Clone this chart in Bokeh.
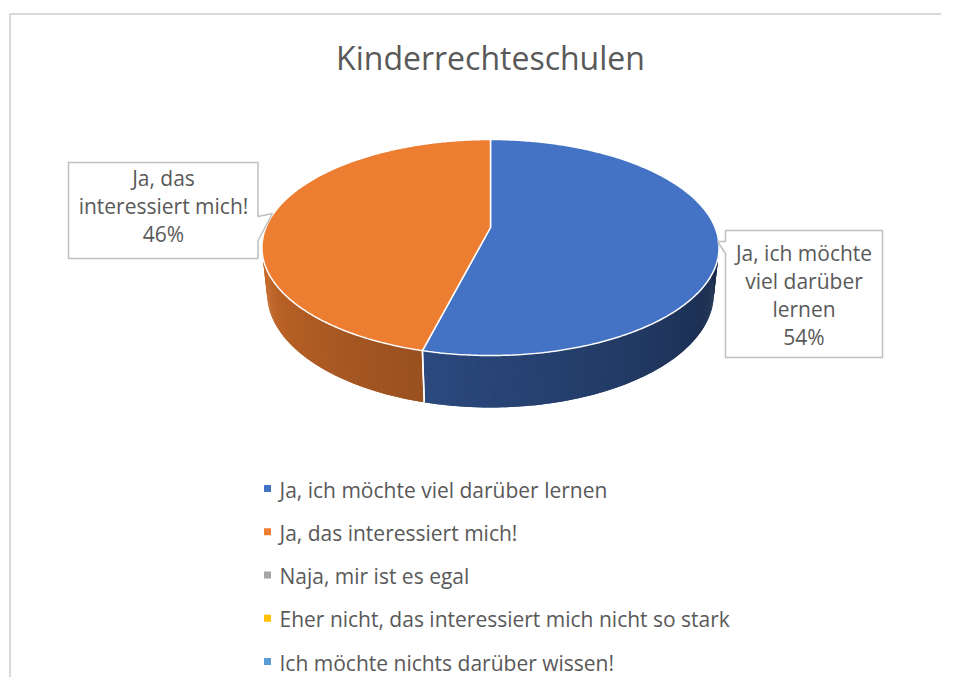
import numpy as np
from bokeh.plotting import figure
from bokeh.models import Range1d
from bokeh.embed import file_html
from bokeh.resources import INLINE
from bokeh.core.properties import value

# ---------------- data ----------------
title = "Kinderrechteschulen"
categories = [
    "Ja, ich möchte viel darüber lernen",
    "Ja, das interessiert mich!",
    "Naja, mir ist es egal",
    "Eher nicht, das interessiert mich nicht so stark",
    "Ich möchte nichts darüber wissen!",
]
values = [54, 46, 0, 0, 0]
colors = ["#4472C4", "#ED7D31", "#A5A5A5", "#FFC000", "#5B9BD5"]
label_lines = [
    ["Ja, ich möchte", "viel darüber", "lernen"],
    ["Ja, das", "interessiert mich!"],
    [], [], [],
]

FONT = value("Open Sans")
TXT = "#595959"

W, H = 941, 677
p = figure(width=W, height=H, x_range=Range1d(0, W), y_range=Range1d(H, 0),
           output_backend="svg", toolbar_location=None, min_border=0,
           x_axis_type=None, y_axis_type=None)
p.grid.visible = False
p.outline_line_color = None
p.background_fill_color = "white"
p.border_fill_color = "white"

# chart frame (left and top edges visible in the reference)
p.line([9.5, 9.5, W], [H, 13.5, 13.5], line_color="#D9D9D9", line_width=2)

# title
p.text(x=[490], y=[57], text=[title], text_font=FONT, text_font_size="32px",
       text_color=TXT, text_align="center", text_baseline="middle")

# ---------------- 3D pie geometry (perspective projection) ----------------
CX, CY = 490.0, 227.0
F = 1074.0
alpha = np.radians(27.67)
sa, ca = np.sin(alpha), np.cos(alpha)
D = 4.782
THICK = 0.2334


def proj(phi, h=0.0):
    phi = np.asarray(phi, dtype=float)
    sx = np.sin(phi)
    sz = -np.cos(phi)
    depth = h * sa + D - sz * ca
    return CX + F * sx / depth, CY + F * (h * ca + sz * sa) / depth


def shade(hexcol, f):
    r, g, b = int(hexcol[1:3], 16), int(hexcol[3:5], 16), int(hexcol[5:7], 16)
    return "#%02x%02x%02x" % (int(r * f), int(g * f), int(b * f))


total = float(sum(values))
fracs = [v / total for v in values]
starts = np.cumsum([0] + fracs[:-1]) * 2 * np.pi
ends = np.cumsum(fracs) * 2 * np.pi

# side walls as thin, overlapping shaded quads (smooth gradient)
qx, qy, qc = [], [], []
for v, a0, a1, col in zip(values, starts, ends, colors):
    if v <= 0:
        continue
    n = max(2, int(2 * np.degrees(a1 - a0)))
    ph = np.linspace(a0, a1, n + 1)
    for i in range(n):
        j = min(i + 2, n)
        pm = 0.5 * (ph[i] + ph[i + 1])
        if -np.cos(pm) < -0.25:
            continue
        seg = np.array([ph[i], ph[j]])
        xt, yt = proj(seg, 0.0)
        xb, yb = proj(seg, THICK)
        qx.append([xt[0], xt[1], xb[1], xb[0]])
        qy.append([yt[0], yt[1], yb[1], yb[0]])
        f = np.clip(0.40 + (np.degrees(pm) - 110) * 0.44 / 150, 0.36, 0.88)
        qc.append(shade(col, f))
p.patches(qx, qy, fill_color=qc, line_color=None)

# white edges between slices on the visible wall
for a in list(starts) + list(ends):
    if -np.cos(a) > 0.05:
        xt, yt = proj([a], 0.0)
        xb, yb = proj([a], THICK)
        p.line([xt[0], xb[0]], [yt[0], yb[0]], line_color="white", line_width=1.5)

# top faces
tx, ty, tc = [], [], []
for v, a0, a1, col in zip(values, starts, ends, colors):
    if v <= 0:
        continue
    ph = np.linspace(a0, a1, 300)
    xa, ya = proj(ph, 0.0)
    tx.append([CX] + list(xa))
    ty.append([CY] + list(ya))
    tc.append(col)
p.patches(tx, ty, fill_color=tc, line_color="white", line_width=1.5)

# ---------------- data label callouts ----------------
callouts = {
    0: dict(xs=[725, 882, 882, 725, 725, 717, 725], ys=[230, 230, 357, 357, 253, 241, 241],
            cx=803.5, y0=252),
    1: dict(xs=[68, 257.5, 257.5, 272, 257.5, 257.5, 68], ys=[162, 162, 216, 213, 240, 258, 258],
            cx=163, y0=177),
}
for idx, c in callouts.items():
    p.patch(c["xs"], c["ys"], fill_color="white", line_color="#BFBFBF", line_width=1.5)
    lines = label_lines[idx] + ["%d%%" % values[idx]]
    p.text(x=[c["cx"]] * len(lines), y=[c["y0"] + 28.3 * k for k in range(len(lines))], text=lines,
           text_font=FONT, text_font_size="21px", text_color=TXT, text_align="center",
           text_baseline="middle")

# ---------------- legend ----------------
leg_y = [489 + 43.25 * k for k in range(len(categories))]
p.scatter(x=[267] * len(categories), y=[y - 1 for y in leg_y], marker="square", size=7,
          fill_color=colors, line_color=None)
p.text(x=[279] * len(categories), y=leg_y, text=categories, text_font=FONT,
       text_font_size="21px", text_color=TXT, text_align="left", text_baseline="middle")

open("out.html", "w").write(file_html(p, INLINE))
